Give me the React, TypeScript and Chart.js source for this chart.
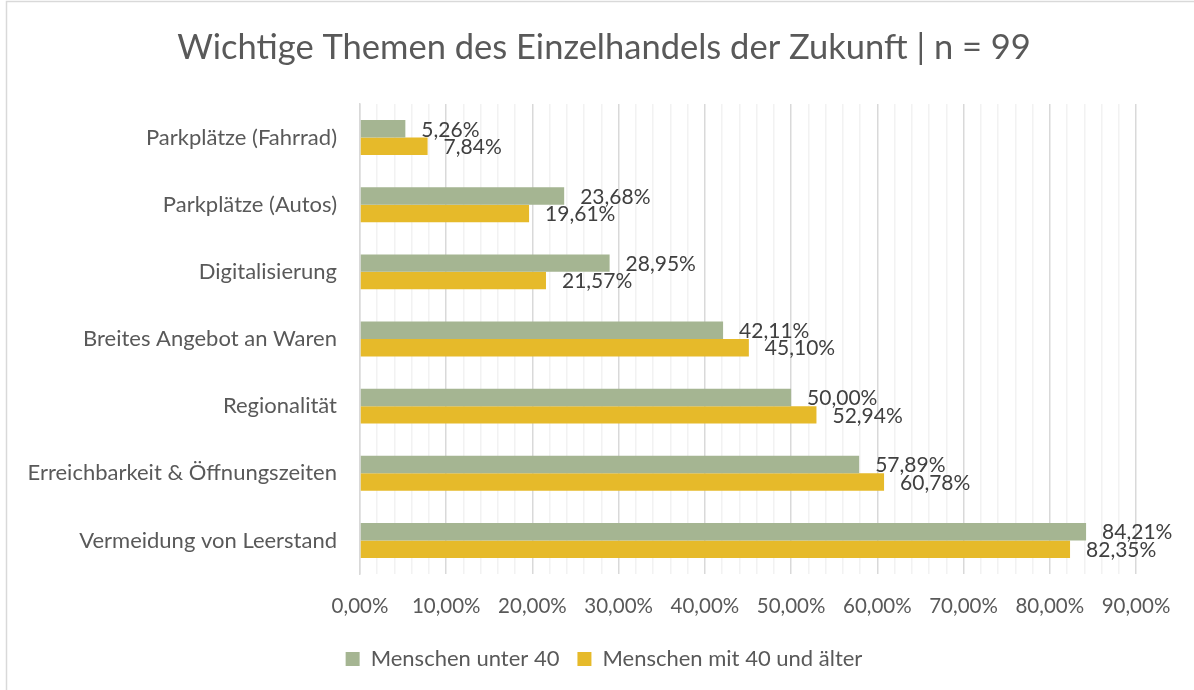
import React, { useEffect, useRef } from "react";
import { Chart, registerables } from "chart.js";

Chart.register(...registerables);

const TITLE = "Wichtige Themen des Einzelhandels der Zukunft | n = 99";
const categories = [
  "Parkplätze (Fahrrad)",
  "Parkplätze (Autos)",
  "Digitalisierung",
  "Breites Angebot an Waren",
  "Regionalität",
  "Erreichbarkeit & Öffnungszeiten",
  "Vermeidung von Leerstand",
];
const seriesNames = ["Menschen unter 40", "Menschen mit 40 und älter"];
const under40 = [5.26, 23.68, 28.95, 42.11, 50.0, 57.89, 84.21];
const over40 = [7.84, 19.61, 21.57, 45.1, 52.94, 60.78, 82.35];
const colors = ["#A5B592", "#E6BA2A"];
const axisMax = 90;

const FONT = "Lato, 'Open Sans', sans-serif";
const fmt = (v: number) => v.toFixed(2).replace(".", ",") + "%";

const dataLabels = {
  id: "dataLabels",
  afterDatasetsDraw(chart: any) {
    const ctx = chart.ctx;
    ctx.save();
    ctx.font = `21px ${FONT}`;
    ctx.fillStyle = "#404040";
    ctx.textAlign = "left";
    ctx.textBaseline = "middle";
    chart.data.datasets.forEach((ds: any, di: number) => {
      const meta = chart.getDatasetMeta(di);
      meta.data.forEach((bar: any, i: number) => {
        ctx.fillText(fmt(ds.data[i]), bar.x + 16, bar.y + 1);
      });
    });
    ctx.restore();
  },
};

const frame = {
  id: "frame",
  beforeDraw(chart: any) {
    const ctx = chart.ctx;
    ctx.save();
    ctx.fillStyle = "#ffffff";
    ctx.fillRect(0, 0, chart.width, chart.height);
    ctx.strokeStyle = "#d9d9d9";
    ctx.lineWidth = 1.5;
    ctx.beginPath();
    ctx.moveTo(6.5, chart.height);
    ctx.lineTo(6.5, 1.5);
    ctx.lineTo(chart.width, 1.5);
    ctx.stroke();
    ctx.restore();
  },
};

export default function App() {
  const ref = useRef<HTMLCanvasElement>(null);
  useEffect(() => {
    if (!ref.current) return;
    const chart = new Chart(ref.current, {
      type: "bar",
      data: {
        labels: categories,
        datasets: [
          { label: seriesNames[0], data: under40, backgroundColor: colors[0], categoryPercentage: 0.52, barPercentage: 1 },
          { label: seriesNames[1], data: over40, backgroundColor: colors[1], categoryPercentage: 0.52, barPercentage: 1 },
        ],
      },
      options: {
        indexAxis: "y",
        responsive: false,
        animation: false,
        layout: { padding: { left: 14, right: 0, top: 0, bottom: 10 } },
        scales: {
          x: {
            min: 0,
            max: axisMax,
            ticks: {
              stepSize: 2,
              autoSkip: false,
              maxRotation: 0,
              padding: 20,
              color: "#595959",
              font: { family: FONT, size: 20.5 },
              callback: (v: any) => (Number(v) % 10 === 0 ? fmt(Number(v)) : ""),
            },
            grid: {
              drawTicks: false,
              lineWidth: 1.5,
              color: (c: any) => (c.tick && c.tick.value % 10 === 0 ? "#d9d9d9" : "#f2f2f2"),
            },
            border: { display: false },
            afterFit: (s: any) => { s.height = 56; },
          },
          y: {
            ticks: { padding: 23, color: "#595959", font: { family: FONT, size: 22 } },
            grid: { display: false, drawTicks: false },
            border: { display: true, color: "#d9d9d9", width: 1.5 },
            afterFit: (s: any) => { s.width = 346; },
          },
          yRight: {
            type: "category",
            position: "right",
            labels: categories,
            ticks: { display: false },
            grid: { display: false, drawTicks: false },
            border: { display: false },
            afterFit: (s: any) => { s.width = 58; },
          },
        },
        plugins: {
          title: {
            display: true,
            text: TITLE,
            color: "#595959",
            font: { family: FONT, size: 34.5, weight: "normal" },
            padding: { top: 27.3, bottom: 35.3 },
          },
          legend: {
            position: "bottom",
            labels: {
              boxWidth: 14,
              boxHeight: 14,
              padding: 18,
              color: "#595959",
              font: { family: FONT, size: 22 },
            },
          },
          tooltip: { enabled: false },
        },
      },
      plugins: [frame, dataLabels],
    } as any);
    return () => chart.destroy();
  }, []);
  return (
    <div style={{ position: "absolute", left: 0, top: 0, width: 1194, height: 690, background: "#fff" }}>
      <canvas ref={ref} width={1194} height={690} style={{ width: 1194, height: 690, display: "block" }} />
    </div>
  );
}
